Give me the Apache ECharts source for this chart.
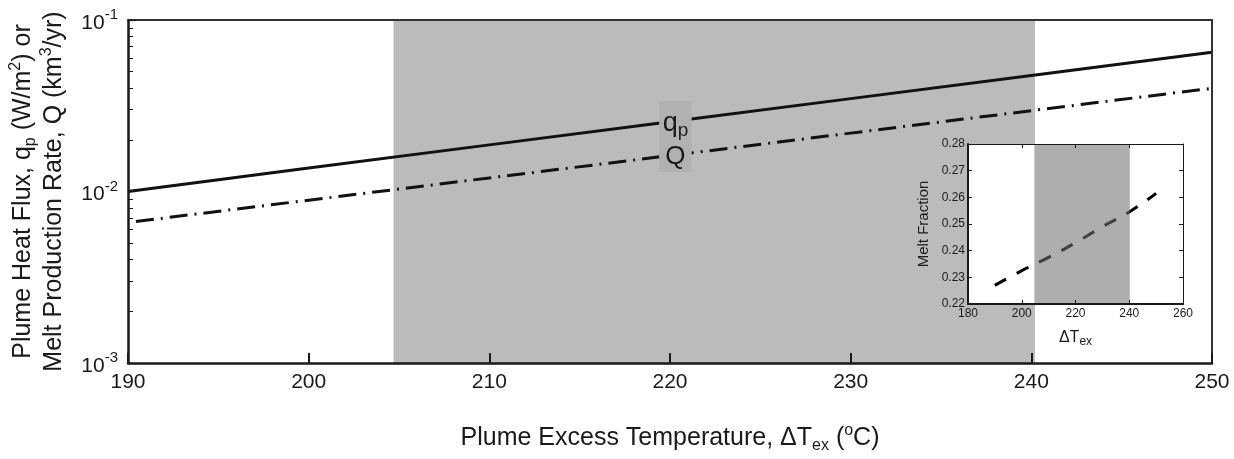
<!DOCTYPE html>
<html>
<head>
<meta charset="utf-8">
<script src="https://cdn.jsdelivr.net/npm/echarts@6/dist/echarts.min.js"></script>
<style>
  html, body { margin: 0; padding: 0; background: #fff; }
  #chart { width: 1234px; height: 459px; }
</style>
</head>
<body>
<div id="chart"></div>
<script>
// values
const temps = [190, 200, 210, 220, 230, 240, 250]
const heatFlux = [0.0100, 0.0137, 0.0187, 0.0255, 0.0348, 0.0475, 0.0648]
const meltRate = [0.0066, 0.0089, 0.0120, 0.0162, 0.0219, 0.0296, 0.0400]
const meltFraction = [0.227, 0.2325, 0.2375, 0.243, 0.249, 0.2545, 0.2615]
const shadeRange = [204.7, 240.2]
const labelBox = [[219.4, 0.0339], [221.2, 0.0130]]
const logMinor = [-3, -2].flatMap(e => [2, 3, 4, 5, 6, 7, 8, 9].map(m => Math.log10(m) + e))

const font = 'Liberation Sans, Arial, Helvetica, sans-serif'
const ink = '#1a1a1a'

const chart = echarts.init(document.getElementById('chart'))

const richBig = {
  t: { fontSize: 25, fontFamily: font, color: ink, lineHeight: 31 },
  sup: { fontSize: 16, fontFamily: font, color: ink, lineHeight: 16, verticalAlign: 'top' },
  sub: { fontSize: 16, fontFamily: font, color: ink, lineHeight: 14, verticalAlign: 'bottom' },
}

chart.setOption({
  animation: false,
  grid: [
    { left: 127, right: 22, top: 20, bottom: 94 },
    { left: 968, right: 51, top: 144, bottom: 155, show: true, backgroundColor: '#fff', borderWidth: 0, zlevel: 1 },
  ],
  xAxis: [
    {
      type: 'value', gridIndex: 0, min: 190, max: 250, interval: 10, z: 5,
      axisLine: { lineStyle: { color: ink, width: 2.5 } },
      axisTick: { inside: true, length: 10, lineStyle: { color: ink, width: 2 } },
      axisLabel: { fontSize: 21, fontFamily: font, color: ink, margin: 9 },
      splitLine: { show: false },
      name: '{t|Plume Excess Temperature, ΔT}{sub|ex}{t| (}{sup|o}{t|C)}',
      nameLocation: 'middle', nameGap: 60,
      nameTextStyle: { rich: richBig },
    },
    {
      type: 'value', gridIndex: 0, position: 'top', min: 190, max: 250, z: 5,
      axisLine: { lineStyle: { color: '#333', width: 2 } },
      axisTick: { show: false }, axisLabel: { show: false }, splitLine: { show: false },
    },
    {
      type: 'value', gridIndex: 1, min: 180, max: 260, interval: 20, zlevel: 1, z: 5,
      axisLine: { lineStyle: { color: ink, width: 2 } },
      axisTick: { inside: true, length: 4, lineStyle: { color: ink, width: 1 } },
      axisLabel: { fontSize: 12, fontFamily: font, color: ink, margin: 4 },
      splitLine: { show: false },
      name: '{t|ΔT}{sub|ex}', nameLocation: 'middle', nameGap: 24,
      nameTextStyle: {
        rich: {
          t: { fontSize: 16, fontFamily: font, color: ink, lineHeight: 20 },
          sub: { fontSize: 12, fontFamily: font, color: ink, lineHeight: 10, verticalAlign: 'bottom' },
        },
      },
    },
    {
      type: 'value', gridIndex: 1, position: 'top', min: 180, max: 260, interval: 20, zlevel: 1, z: 5,
      axisLine: { lineStyle: { color: ink, width: 1 } },
      axisTick: { inside: true, length: 4, lineStyle: { color: ink, width: 1 } },
      axisLabel: { show: false }, splitLine: { show: false },
    },
  ],
  yAxis: [
    {
      type: 'log', gridIndex: 0, logBase: 10, min: 0.001, max: 0.1, z: 5,
      axisLine: { lineStyle: { color: ink, width: 2.5 } },
      axisTick: { inside: true, length: 8, lineStyle: { color: ink, width: 1.2 } },
      axisLabel: {
        margin: 10,
        formatter: v => '{b|10}{s|' + Math.round(Math.log10(v)) + '}',
        rich: {
          b: { fontSize: 21, fontFamily: font, color: ink, lineHeight: 25, padding: [6, 0, 0, 0] },
          s: { fontSize: 15, fontFamily: font, color: ink, lineHeight: 14, verticalAlign: 'top' },
        },
      },
      splitLine: { show: false },
      name: '{t|Plume Heat Flux, q}{sub|p}{t| (W/m}{sup|2}{t|) or}\n{t|Melt Production Rate, Q (km}{sup|3}{t|/yr)}',
      nameLocation: 'middle', nameGap: 58,
      nameTextStyle: { rich: richBig },
    },
    {
      // minor ticks of the log axis, placed in log10 units
      type: 'value', gridIndex: 0, min: -3, max: -1, position: 'left', z: 5,
      axisLine: { show: false },
      axisTick: { inside: true, length: 5, customValues: logMinor, lineStyle: { color: ink, width: 1 } },
      axisLabel: { show: false }, splitLine: { show: false },
    },
    {
      type: 'value', gridIndex: 0, position: 'right', min: 0, max: 1, z: 5,
      axisLine: { lineStyle: { color: '#333', width: 2 } },
      axisTick: { show: false }, axisLabel: { show: false }, splitLine: { show: false },
    },
    {
      type: 'value', gridIndex: 1, min: 0.22, max: 0.28, interval: 0.01, zlevel: 1, z: 5,
      axisLine: { lineStyle: { color: ink, width: 2 } },
      axisTick: { inside: true, length: 4, lineStyle: { color: ink, width: 1 } },
      axisLabel: { fontSize: 12, fontFamily: font, color: ink, margin: 3, formatter: v => v.toFixed(2) },
      splitLine: { show: false },
      name: 'Melt Fraction', nameLocation: 'middle', nameGap: 37,
      nameTextStyle: { fontSize: 15, fontFamily: font, color: ink },
    },
    {
      type: 'value', gridIndex: 1, position: 'right', min: 0.22, max: 0.28, interval: 0.01, zlevel: 1, z: 5,
      axisLine: { lineStyle: { color: ink, width: 1 } },
      axisTick: { inside: true, length: 4, lineStyle: { color: ink, width: 1 } },
      axisLabel: { show: false }, splitLine: { show: false },
    },
  ],
  series: [
    {
      name: 'shade', type: 'line', xAxisIndex: 0, yAxisIndex: 0, data: [], z: 1,
      markArea: {
        silent: true, z: 1,
        itemStyle: { color: '#bbbbbb' },
        data: [[{ xAxis: shadeRange[0] }, { xAxis: shadeRange[1] }]],
      },
    },
    {
      name: 'q_p', type: 'line', xAxisIndex: 0, yAxisIndex: 0, z: 2,
      data: temps.map((t, i) => [t, heatFlux[i]]),
      showSymbol: false, symbol: 'none',
      lineStyle: { color: '#111', width: 3 },
    },
    {
      name: 'Q', type: 'line', xAxisIndex: 0, yAxisIndex: 0, z: 2,
      data: temps.map((t, i) => [t, meltRate[i]]),
      showSymbol: false, symbol: 'none',
      lineStyle: { color: '#111', width: 3, type: [18, 7, 2, 7], dashOffset: -8 },
    },
    {
      name: 'labels', type: 'line', xAxisIndex: 0, yAxisIndex: 0, data: [], zlevel: 1, z: 4,
      markArea: {
        silent: true, zlevel: 1, z: 4,
        itemStyle: { color: '#b1b1b1' },
        label: {
          show: true, position: 'inside', offset: [0, 4],
          formatter: '{q|q}{p|p}\n{Q|Q}',
          rich: {
            q: { fontSize: 27, fontFamily: font, color: ink, lineHeight: 34 },
            p: { fontSize: 19, fontFamily: font, color: ink, lineHeight: 18, verticalAlign: 'bottom' },
            Q: { fontSize: 26, fontFamily: font, color: ink, lineHeight: 34 },
          },
        },
        data: [[{ coord: labelBox[0] }, { coord: labelBox[1] }]],
      },
    },
    {
      name: 'melt fraction', type: 'line', xAxisIndex: 2, yAxisIndex: 3, zlevel: 1, z: 2,
      data: temps.map((t, i) => [t, meltFraction[i]]),
      showSymbol: false, symbol: 'none', smooth: true,
      lineStyle: { color: '#000', width: 3, type: [13, 12] },
    },
    {
      name: 'inset shade', type: 'line', xAxisIndex: 2, yAxisIndex: 3, data: [], zlevel: 1, z: 3,
      markArea: {
        silent: true, zlevel: 1, z: 3,
        itemStyle: { color: 'rgba(112,112,112,0.57)' },
        data: [[{ xAxis: shadeRange[0] }, { xAxis: shadeRange[1] }]],
      },
    },
  ],
})
</script>
</body>
</html>
